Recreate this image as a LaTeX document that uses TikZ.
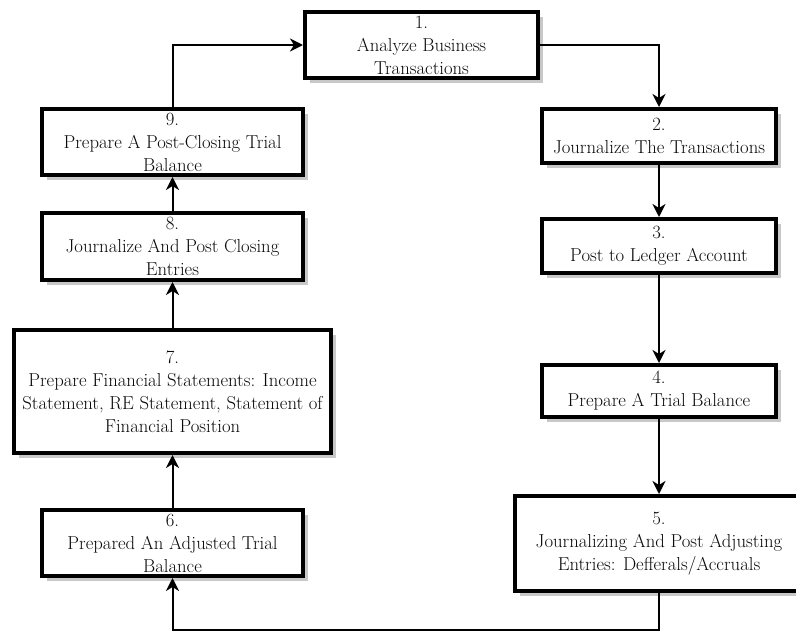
\documentclass[tikz,border=0pt]{standalone}
\usetikzlibrary{positioning,arrows.meta,shadows}
\definecolor{sh1}{RGB}{200,200,200}
\definecolor{tx1}{RGB}{10,10,10}

\begin{document}
\begin{tikzpicture}[
    x=1pt, y=-1pt,
    font=\rmfamily\fontsize{18.7}{23}\selectfont,
    l/.style={
        line width=2pt,
        -{Stealth[length=13pt,width=13pt,inset=4pt]}
    },
    e/.style={
        draw, line width=4pt, fill=white, text=tx1,
        align=center, inner sep=0pt,
        drop shadow={shadow xshift=5pt, shadow yshift=-5pt,
                     fill=sh1, opacity=1}
    }
]

\useasboundingbox (0,0) rectangle (796,632);

\node [e, minimum width=233pt, minimum height=66pt] at (421.5,45) (b1)
    {1.\\Analyze Business\\Transactions};
\node [e, minimum width=234pt, minimum height=54pt,
       below right=27pt and 0pt of b1] (b2)
    {2.\\Journalize The Transactions};
\node [e, minimum width=234pt, minimum height=54pt, below=52pt of b2] (b3)
    {3.\\Post to Ledger Account};
\node [e, minimum width=234pt, minimum height=52pt, below=88pt of b3] (b4)
    {4.\\Prepare A Trial Balance};
\node [e, minimum width=288pt, minimum height=95pt, below=75pt of b4] (b5)
    {5.\\Journalizing And Post Adjusting\\Entries: Defferals/Accruals};

\node [e, minimum width=261pt, minimum height=66pt,
       below left=27pt and -2pt of b1] (b9)
    {9.\\Prepare A Post-Closing Trial\\Balance};
\node [e, minimum width=261pt, minimum height=67pt, below=34pt of b9] (b8)
    {8.\\Journalize And Post Closing\\Entries};
\node [e, minimum width=317pt, minimum height=123pt, below=46pt of b8] (b7)
    {7.\\Prepare Financial Statements: Income\\Statement, RE Statement, Statement of\\Financial Position};
\node [e, minimum width=261pt, minimum height=66pt, below=53pt of b7] (b6)
    {6.\\Prepared An Adjusted Trial\\Balance};

\coordinate (bot) at (0,630);

\draw [l] (b1.east) -| (b2.north);
\draw [l] (b2) -- (b3);
\draw [l] (b3) -- (b4);
\draw [l] (b4) -- (b5);
\draw [l] (b5.south) -- (b5.south |- bot) -| (b6.south);
\draw [l] (b6) -- (b7);
\draw [l] (b7) -- (b8);
\draw [l] (b8) -- (b9);
\draw [l] (b9.north) |- (b1.west);

\end{tikzpicture}
\end{document}
